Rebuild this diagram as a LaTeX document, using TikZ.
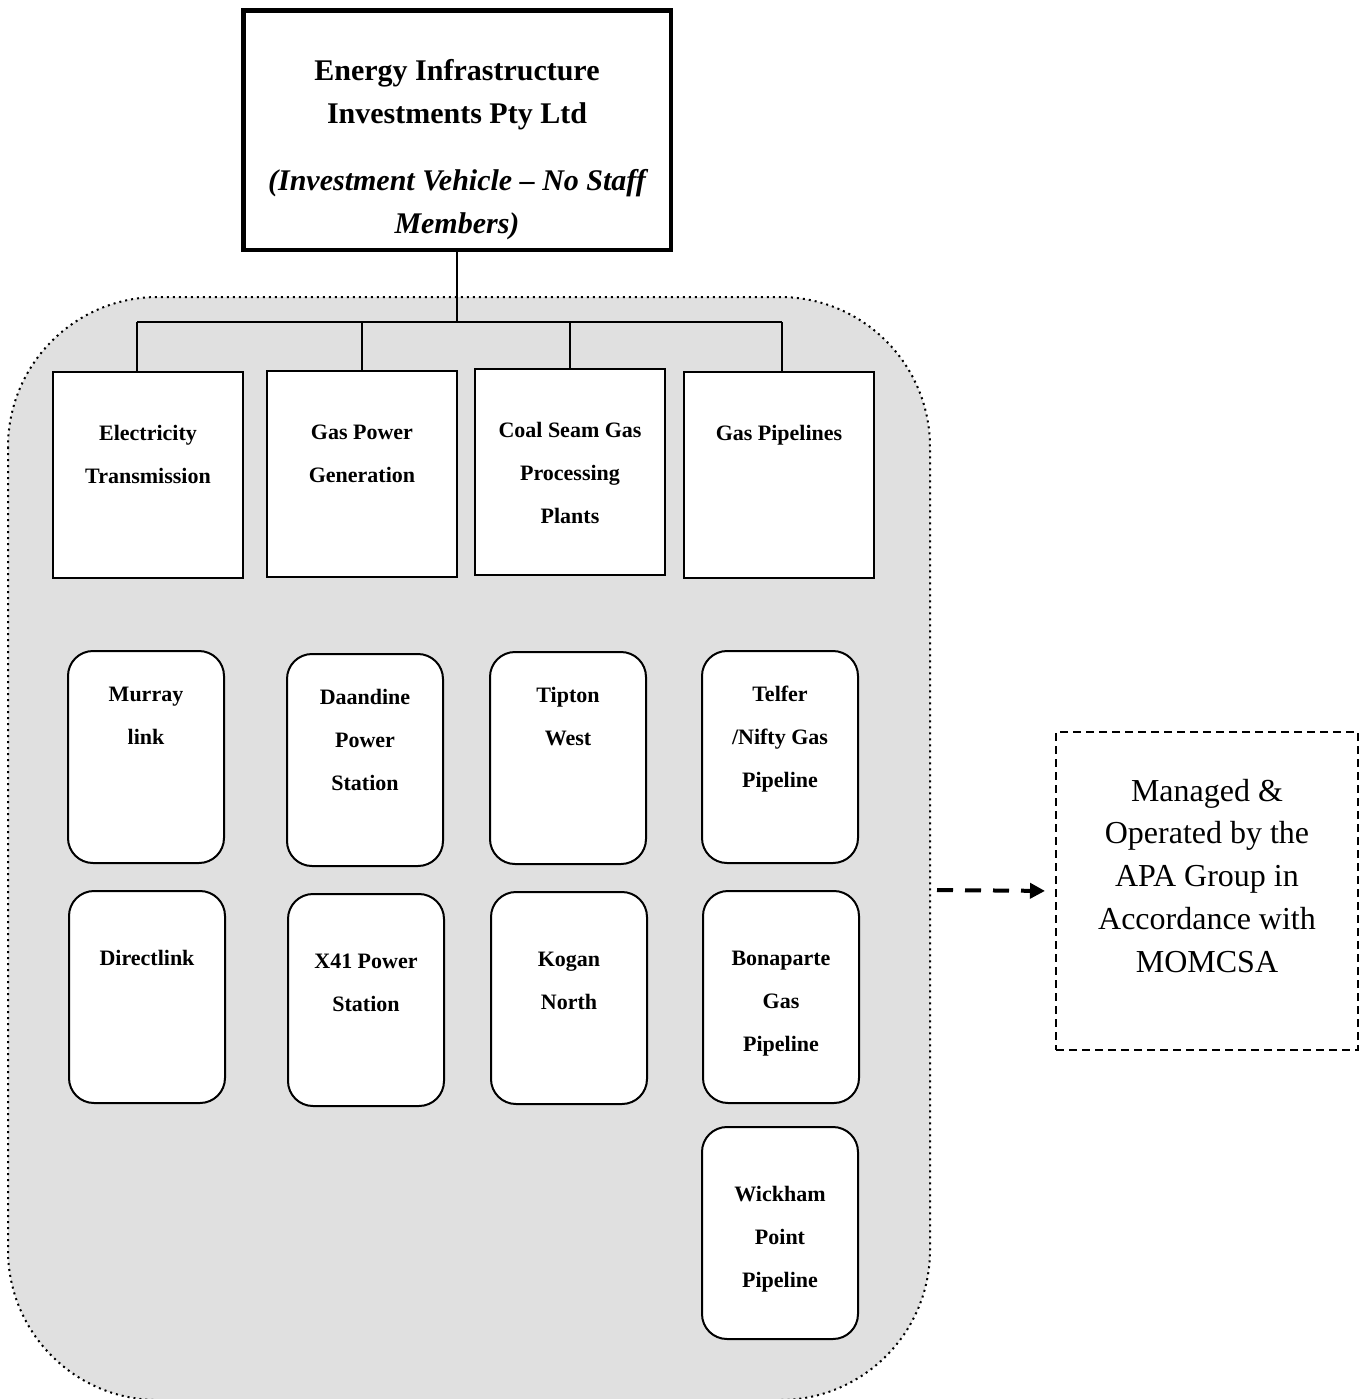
\documentclass[tikz,border=0pt]{standalone}
\usepackage{fontspec}
\setmainfont{Liberation Serif}
\usetikzlibrary{arrows.meta}

% text block hung from the top of a box: width, height, first baseline, text
\newcommand{\boxtext}[4]{\parbox[c][#2][t]{#1}{\centering\rule{0pt}{#3}#4}}

\tikzset{
  cat/.style={draw, line width=1pt, fill=white, inner sep=0pt, anchor=north west,
    font=\bfseries\fontsize{11}{21.5}\selectfont},
  asset/.style={cat, rounded corners=12.5pt},
  conn/.style={line width=0.9pt},
}

\begin{document}
\begin{tikzpicture}[x=0.5pt, y=-0.5pt]
  \useasboundingbox (0,0) rectangle (1361,1399);

  \draw[fill=black!12, line width=1pt, dotted, rounded corners=75pt]
  (8,297) rectangle (930,1400);

  \node[draw, line width=2.25pt, fill=white, inner sep=0pt,
    font=\bfseries\fontsize{15}{21.5}\selectfont] (eii) at (457,130)
  {\boxtext{213.75pt}{119.75pt}{35pt}{Energy Infrastructure\\Investments Pty Ltd\\[12pt]
      \itshape(Investment Vehicle -- No Staff\\Members)}};

  \node[cat] (elec) at (52,371) {\boxtext{95pt}{103pt}{34pt}{Electricity\\Transmission}};
  \node[cat] (gaspow) at (266,370) {\boxtext{95pt}{103pt}{34pt}{Gas Power\\Generation}};
  \node[cat] (coal) at (474,368) {\boxtext{95pt}{103pt}{34pt}{Coal Seam Gas\\Processing\\Plants}};
  \node[cat] (pipes) at (683,371) {\boxtext{95pt}{103pt}{34pt}{Gas Pipelines}};

  \node[asset] (murray) at (67,650) {\boxtext{78pt}{106pt}{25pt}{Murray\\link}};
  \node[asset] (daandine) at (286,653) {\boxtext{78pt}{106pt}{25pt}{Daandine\\Power\\Station}};
  \node[asset] (tipton) at (489,651) {\boxtext{78pt}{106pt}{25pt}{Tipton\\West}};
  \node[asset] (telfer) at (701,650) {\boxtext{78pt}{106pt}{25pt}{Telfer\\/Nifty Gas\\Pipeline}};

  \node[asset] (directlink) at (68,890) {\boxtext{78pt}{106pt}{37pt}{Directlink}};
  \node[asset] (xfortyone) at (287,893) {\boxtext{78pt}{106pt}{37pt}{X41 Power\\Station}};
  \node[asset] (kogan) at (490,891) {\boxtext{78pt}{106pt}{37pt}{Kogan\\North}};
  \node[asset] (bonaparte) at (702,890) {\boxtext{78pt}{106pt}{37pt}{Bonaparte\\Gas\\Pipeline}};
  \node[asset] (wickham) at (701,1126) {\boxtext{78pt}{106pt}{37pt}{Wickham\\Point\\Pipeline}};

  \node[draw, line width=1pt, dash pattern=on 4pt off 2.5pt, inner sep=0pt, anchor=north west,
    font=\fontsize{16}{21.4}\selectfont] (mgr) at (1055,731)
  {\boxtext{151pt}{159pt}{34.5pt}{Managed \&\\Operated by the\\APA Group in\\Accordance with\\MOMCSA}};

  \coordinate (busl) at (137,322);
  \coordinate (busr) at (782,322);
  \coordinate (arrowtail) at (937,890);

  \draw[conn] (eii.south) -- (eii.south |- busl);
  \draw[conn] (busl) -- (busr);
  \draw[conn] (busl) -- (busl |- elec.north);
  \draw[conn] (gaspow.north) -- (gaspow.north |- busl);
  \draw[conn] (coal.north) -- (coal.north |- busl);
  \draw[conn] (busr) -- (busr |- pipes.north);

  \draw[line width=2pt, dash pattern=on 8pt off 6pt, shorten >=5pt,
    -{Triangle[length=7.5pt, width=7.5pt]}] (arrowtail) -- (mgr.west);

\end{tikzpicture}
\end{document}
